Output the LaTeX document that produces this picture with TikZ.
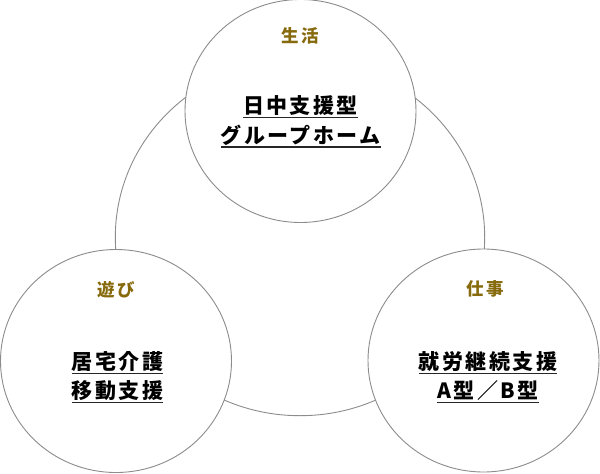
\documentclass[tikz,border=0pt]{standalone}
\usepackage{fontspec}
\usetikzlibrary{shapes.geometric}
\newfontfamily\jp{Noto Sans CJK JP}[LetterSpace=16]
\newfontfamily\jpmain{Noto Sans CJK JP}[LetterSpace=11.5]
\definecolor{gold}{RGB}{134,106,12}
\definecolor{ringgray}{RGB}{140,140,140}
\tikzset{
  ring/.style={ellipse, draw=ringgray, line width=0.9pt, fill=white, inner sep=0pt},
  tag/.style={text=gold, font=\jp\bfseries\fontsize{17.5}{17.5}\selectfont, inner sep=0pt},
  maintext/.style={font=\jpmain\bfseries\fontsize{21}{21}\selectfont, inner sep=0pt, anchor=base},
  ul/.style={draw=black!85, line width=1.2pt}
}
\begin{document}
\begin{tikzpicture}[x=1pt,y=-1pt]
\useasboundingbox (0,0) rectangle (600,474);
\node[ring, minimum width=369.4pt, minimum height=356.6pt] (big) at (300,237.4) {};
\node[ring, minimum width=231pt, minimum height=223pt] (live) at (300.5,111) {};
\node[ring, minimum width=231pt, minimum height=223pt] (play) at (116,361) {};
\node[ring, minimum width=231pt, minimum height=223pt] (work) at (483.5,360.5) {};

\node[tag] (tlive) at (300.5,35.5) {生活};
\node[tag] (tplay) at (116.5,290) {遊び};
\node[tag] (twork) at (485,289) {仕事};

\node[maintext] (l1) at (300.5,113.5) {日中支援型};
\node[maintext] (l2) at (300.5,143) {グループホーム};
\node[maintext] (p1) at (117.5,369.3) {居宅介護};
\node[maintext] (p2) at (117.5,398.3) {移動支援};
\node[maintext] (w1) at (488,369.3) {就労継続支援};
\node[maintext] (w2) at (488,398.3) {A型／B型};

\foreach \n in {l1,l2,p1,p2,w1,w2}
  \draw[ul] ([yshift=-4pt]\n.base west) -- ([yshift=-4pt]\n.base east);
\end{tikzpicture}
\end{document}
